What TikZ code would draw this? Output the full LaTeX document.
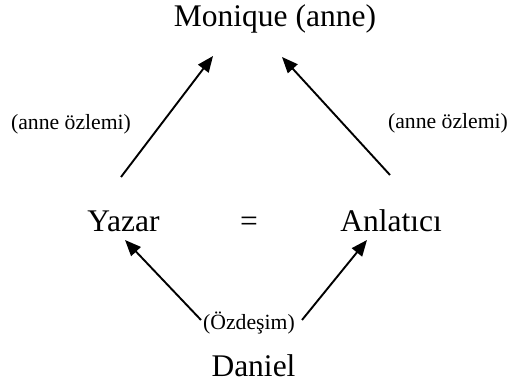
\documentclass[tikz,border=0pt]{standalone}
\usepackage{fontspec}
\setmainfont{Liberation Serif}
\usetikzlibrary{arrows.meta}
\tikzset{
  big/.style={font=\fontsize{31.5}{36}\selectfont, inner sep=0pt, anchor=base},
  small/.style={font=\fontsize{21.7}{25}\selectfont, inner sep=0pt, anchor=base},
  arr/.style={line width=1.9pt, -{Triangle[length=16pt,width=13pt]}}
}
\begin{document}
\begin{tikzpicture}[x=1pt,y=-1pt]
\useasboundingbox (0,0) rectangle (512,387);
\node[big] (mon) at (275,27) {Monique (anne)};
\node[small] (ozl) at (71,130) {(anne özlemi)};
\node[small] (ozr) at (448,129) {(anne özlemi)};
\node[big] (yaz) at (123.5,232) {Yazar};
\node[big] (eq) at (249,232) {=};
\node[big] (anl) at (391,232) {Anlatıcı};
\node[small] (ozd) at (249,330) {(Özdeşim)};
\node[big] (dan) at (253.5,377) {Daniel};
\coordinate (a1s) at (121,177);
\coordinate (a1e) at (213,56);
\coordinate (a2s) at (390,175);
\coordinate (a2e) at (282,57);
\coordinate (a3s) at (201,320);
\coordinate (a3e) at (125,240);
\coordinate (a4s) at (302,320);
\coordinate (a4e) at (367,240);
\draw[arr] (a1s) -- (a1e);
\draw[arr] (a2s) -- (a2e);
\draw[arr] (a3s) -- (a3e);
\draw[arr] (a4s) -- (a4e);
\end{tikzpicture}
\end{document}
